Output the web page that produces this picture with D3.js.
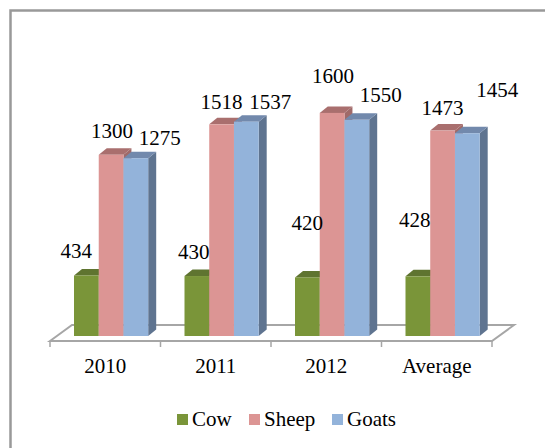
<!DOCTYPE html>
<html><head><meta charset="utf-8">
<script src="https://cdn.jsdelivr.net/npm/d3@7"></script>
<style>html,body{margin:0;padding:0;background:#fff}svg{display:block}text{font-family:"Liberation Serif",serif;fill:#000}</style>
</head><body><div id="c"></div>
<script>
const categories = ["2010","2011","2012","Average"];
const seriesNames = ["Cow","Sheep","Goats"];
const cow = [434,430,420,428];
const sheep = [1300,1518,1600,1473];
const goats = [1275,1537,1550,1454];

const W=545,H=448;
const front = ["#7a9539","#dc9594","#93b3da"];
const topC = ["#5f7430","#a96f6e","#7289ac"];
const side = ["#5a6f2a","#a06a69","#5f7490"];
// hand-placed data-label offsets from each bar's top centre
const labelOffX = [[-10,-3,0,-3],[1,0,1,0],[24,24,24,30]];
const labelOffY = [[-17,-17,-47,-49],[-17,-15,-30,-16],[-13,-13,-18,-36]];

const svg=d3.select("#c").append("svg").attr("width",W).attr("height",H);
svg.append("path").attr("fill","none").attr("stroke","#999").attr("stroke-width",2.5)
  .attr("d",`M10.5,${H}V10.5H${W}`);

const x=d3.scaleBand().domain(categories).range([50,492]);
const xs=d3.scaleBand().domain(seriesNames).range([24,98.2]);
const y=d3.scaleLinear().domain([0,1800]).range([336,85]);
const dx=8,dy=6.5,fx=22,fy=16,fl=341;

svg.append("path").attr("fill","none").attr("stroke","#a6a6a6").attr("stroke-width",2)
  .attr("d",`M50,${fl}L${50+fx},${fl-fy}L${492+fx},${fl-fy}L492,${fl}Z`);
const ticks=[...categories.map(c=>x(c)),492];
svg.selectAll("line.t").data(ticks).join("line").attr("class","t")
  .attr("x1",d=>d).attr("x2",d=>d).attr("y1",fl).attr("y2",fl+6)
  .attr("stroke","#a6a6a6").attr("stroke-width",1.5);

const table=[cow,sheep,goats];
categories.forEach((c,ci)=>{
  seriesNames.forEach((s,si)=>{
    const v=table[si][ci];
    const bx=x(c)+xs(s),w=xs.bandwidth(),t=y(v),b=y(0);
    const g=svg.append("g");
    g.append("path").attr("fill",side[si]).attr("d",`M${bx+w},${t}l${dx},${-dy}L${bx+w+dx},${b-dy}L${bx+w},${b}Z`);
    g.append("path").attr("fill",topC[si]).attr("d",`M${bx},${t}l${dx},${-dy}h${w}l${-dx},${dy}Z`);
    g.append("rect").attr("x",bx).attr("y",t).attr("width",w).attr("height",b-t).attr("fill",front[si]);
  });
});
seriesNames.forEach((s,si)=>{
  categories.forEach((c,ci)=>{
    const v=table[si][ci];
    svg.append("text").attr("x",x(c)+xs(s)+xs.bandwidth()/2+labelOffX[si][ci]).attr("y",y(v)+labelOffY[si][ci])
      .attr("text-anchor","middle").attr("font-size",21).text(v);
  });
});
svg.selectAll("text.c").data(categories).join("text").attr("class","c")
  .attr("x",d=>x(d)+x.bandwidth()/2).attr("y",373).attr("text-anchor","middle").attr("font-size",21).text(d=>d);
const lx=[177,249,332];
seriesNames.forEach((s,i)=>{
  svg.append("rect").attr("x",lx[i]).attr("y",414).attr("width",11).attr("height",11).attr("fill",front[i]);
  svg.append("text").attr("x",lx[i]+15).attr("y",426).attr("font-size",21).text(s);
});
</script></body></html>
